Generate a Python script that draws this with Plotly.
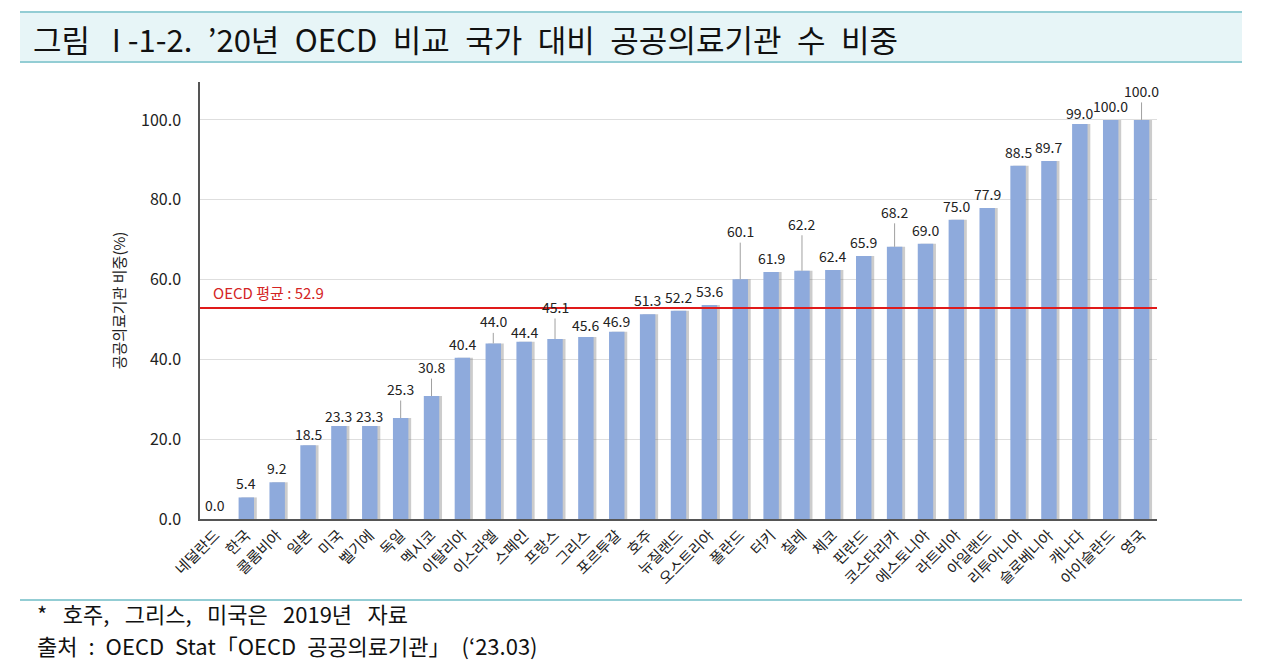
import plotly.graph_objects as go

countries = ["네덜란드", "한국", "콜롬비아", "일본", "미국", "벨기에", "독일", "멕시코",
             "이탈리아", "이스라엘", "스페인", "프랑스", "그리스", "포르투갈", "호주", "뉴질랜드",
             "오스트리아", "폴란드", "터키", "칠레", "체코", "핀란드", "코스타리카", "에스토니아",
             "라트비아", "아일랜드", "리투아니아", "슬로베니아", "캐나다", "아이슬란드", "영국"]
values = [0.0, 5.4, 9.2, 18.5, 23.3, 23.3, 25.3, 30.8,
          40.4, 44.0, 44.4, 45.1, 45.6, 46.9, 51.3, 52.2,
          53.6, 60.1, 61.9, 62.2, 62.4, 65.9, 68.2, 69.0,
          75.0, 77.9, 88.5, 89.7, 99.0, 100.0, 100.0]
oecd_avg = 52.9
y_ticks = [0, 20, 40, 60, 80, 100]

SP = "\u2002"
SP_WIDE = "\u2002\u2009"
title_text = SP.join(["그림", "I -1-2.", "’20년", "OECD", "비교", "국가", "대비", "공공의료기관", "수", "비중"])
title_text = title_text.replace("그림" + SP, "그림" + SP_WIDE, 1)
y_title = "공공의료기관 비중(%)"
avg_label = "OECD 평균 : 52.9"
note1 = SP_WIDE.join(["*", "호주,", "그리스,", "미국은", "2019년", "자료"])
note2 = SP.join(["출처", ":", "OECD", "Stat「OECD", "공공의료기관」", "(‘23.03)"])

# label placement styles (pixel distance of label centre above bar top)
leader_offsets = {"독일": 29, "멕시코": 29, "이스라엘": 22, "프랑스": 32, "폴란드": 48,
                  "칠레": 47, "코스타리카": 35, "영국": 29}
small_offsets = {"일본": 11, "미국": 10, "벨기에": 10, "스페인": 10, "그리스": 12, "포르투갈": 11,
                 "캐나다": 11}
default_offset = 14

FONT = "Noto Sans CJK KR"
BAR_COLOR = "#8eaadc"
W, H = 1280, 666
PAGE_OFF = 8  # browser body margin
# desired page-pixel positions of the plot area
PL, PR, PT, PB = 200, 1157, 82, 519
L = PL - PAGE_OFF
T = PT - PAGE_OFF
R = W - (PR - PAGE_OFF)
B = H - (PB - PAGE_OFF)
plot_w = PR - PL
plot_h = PB - PT


def px_x(px):
    return (px - PL) / plot_w


def px_y(py):
    return (PB - py) / plot_h


fig = go.Figure()

# shadow
fig.add_trace(go.Bar(x=countries, y=values, width=0.5, offset=-0.25 + 0.09,
                     marker=dict(color="rgba(110,110,110,0.35)", line=dict(width=0)),
                     hoverinfo="skip", showlegend=False))
fig.add_trace(go.Bar(x=countries, y=values, width=0.5, offset=-0.25,
                     marker=dict(color=BAR_COLOR, line=dict(width=0)),
                     showlegend=False))

annotations = []
for c, v in zip(countries, values):
    txt = f"{v:.1f}"
    if c in leader_offsets:
        annotations.append(dict(x=c, y=v, xref="x", yref="y", text=txt, showarrow=True,
                                arrowhead=0, arrowwidth=1, arrowcolor="#a0a0a0",
                                ax=0, ay=-leader_offsets[c], standoff=0,
                                font=dict(family=FONT, size=14, color="#222")))
    else:
        annotations.append(dict(x=c, y=v, xref="x", yref="y", text=txt, showarrow=False,
                                yshift=small_offsets.get(c, default_offset),
                                font=dict(family=FONT, size=14, color="#222")))

annotations.append(dict(x=px_x(211), y=56.7, xref="paper", yref="y", text=avg_label,
                        showarrow=False, xanchor="left", yanchor="middle",
                        font=dict(family=FONT, size=15, color="#d42424")))
# title and notes
annotations.append(dict(x=px_x(31), y=px_y(38), xref="paper", yref="paper", text=title_text,
                        showarrow=False, xanchor="left", yanchor="middle",
                        font=dict(family=FONT, size=31, color="#111")))
annotations.append(dict(x=px_x(35), y=px_y(613), xref="paper", yref="paper", text=note1,
                        showarrow=False, xanchor="left", yanchor="middle",
                        font=dict(family=FONT, size=22, color="#111")))
annotations.append(dict(x=px_x(35), y=px_y(645), xref="paper", yref="paper", text=note2,
                        showarrow=False, xanchor="left", yanchor="middle",
                        font=dict(family=FONT, size=22, color="#111")))

shapes = [
    dict(type="line", xref="paper", yref="y", x0=0, x1=1, y0=oecd_avg, y1=oecd_avg,
         line=dict(color="#e01a1a", width=2)),
    dict(type="rect", xref="paper", yref="paper", x0=px_x(20), x1=px_x(1242),
         y0=px_y(62), y1=px_y(12), fillcolor="#e7f5f7", line=dict(width=0), layer="below"),
    dict(type="line", xref="paper", yref="paper", x0=px_x(20), x1=px_x(1242),
         y0=px_y(12), y1=px_y(12), line=dict(color="#93cdd4", width=2)),
    dict(type="line", xref="paper", yref="paper", x0=px_x(20), x1=px_x(1242),
         y0=px_y(62), y1=px_y(62), line=dict(color="#93cdd4", width=2)),
    dict(type="line", xref="paper", yref="paper", x0=px_x(20), x1=px_x(1242),
         y0=px_y(600), y1=px_y(600), line=dict(color="#93cdd4", width=2)),
]

fig.update_layout(
    width=W, height=H,
    margin=dict(l=L, r=R, t=T, b=B),
    paper_bgcolor="white", plot_bgcolor="white",
    barmode="overlay",
    font=dict(family=FONT, size=14, color="#222"),
    annotations=annotations,
    shapes=shapes,
    xaxis=dict(tickangle=-45, tickfont=dict(family=FONT, size=15, color="#222"),
               showline=True, linecolor="#555", linewidth=1.5, ticks="",
               showgrid=False, range=[-0.5, len(countries) - 0.5], fixedrange=True),
    yaxis=dict(range=[0, 109.5], tickvals=y_ticks, tickformat=".1f",
               tickfont=dict(family=FONT, size=16, color="#222"),
               showline=True, linecolor="#555", linewidth=1.5, ticks="",
               ticklabelstandoff=14,
               gridcolor="#dedede", gridwidth=1, zeroline=False,
               title=dict(text=y_title, font=dict(family=FONT, size=15, color="#222"),
                          standoff=12), fixedrange=True),
)

fig.write_html("out.html")
